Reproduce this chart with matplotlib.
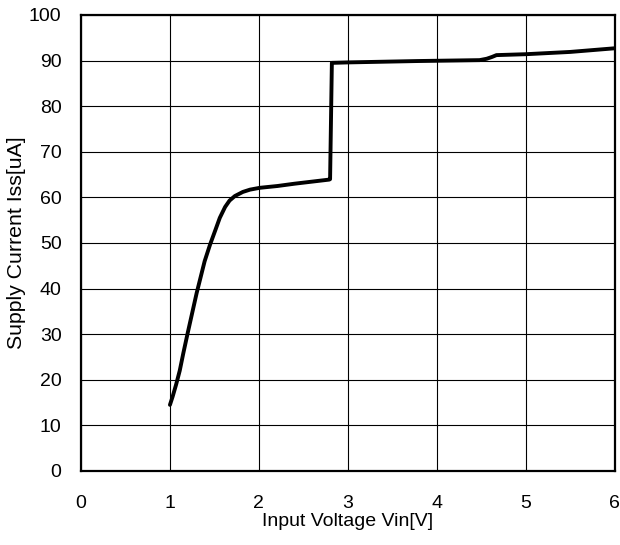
import numpy as np
import matplotlib.pyplot as plt

# data
vin = [1.00, 1.03, 1.07, 1.11, 1.15, 1.20, 1.30, 1.39, 1.45, 1.51, 1.56, 1.62, 1.67, 1.73,
       1.82, 1.90, 2.01, 2.21, 2.40, 2.79, 2.80, 2.82,
       3.00, 3.78, 4.48, 4.56, 4.62, 4.67, 5.00, 5.50, 6.00]
iss = [14.5, 16.3, 19.0, 22.0, 25.8, 30.3, 39.0, 46.0, 49.6, 52.8, 55.5, 57.9, 59.3, 60.3,
       61.2, 61.7, 62.1, 62.5, 63.0, 63.9, 64.0, 89.5,
       89.6, 89.9, 90.1, 90.4, 90.8, 91.2, 91.4, 91.9, 92.7]

x_ticks = [0, 1, 2, 3, 4, 5, 6]
y_ticks = [0, 10, 20, 30, 40, 50, 60, 70, 80, 90, 100]

plt.rcParams['font.family'] = ['Liberation Sans', 'DejaVu Sans']

fig = plt.figure(figsize=(6.2, 5.45), dpi=100)
ax = fig.add_axes([0.1306, 0.1358, 0.861, 0.8367])

# grid
ax.set_xticks(x_ticks)
ax.set_yticks(y_ticks)
ax.grid(True, color='black', linewidth=0.8)
ax.set_axisbelow(True)

# curve
ax.plot(vin, iss, color='black', linewidth=2.8, solid_capstyle='round', solid_joinstyle='round')

ax.set_xlim(0, 6)
ax.set_ylim(0, 100)
for s in ax.spines.values():
    s.set_linewidth(1.6)
    s.set_color('black')
ax.tick_params(length=0, labelsize=14, colors='black')
ax.tick_params(axis='y', pad=14)
ax.tick_params(axis='x', pad=17)

ax.set_xlabel('Input Voltage Vin[V]', fontsize=14, labelpad=1)
ax.set_ylabel('Supply Current Iss[uA]', fontsize=15.3, labelpad=2)

fig.savefig('out.png', dpi=100)
